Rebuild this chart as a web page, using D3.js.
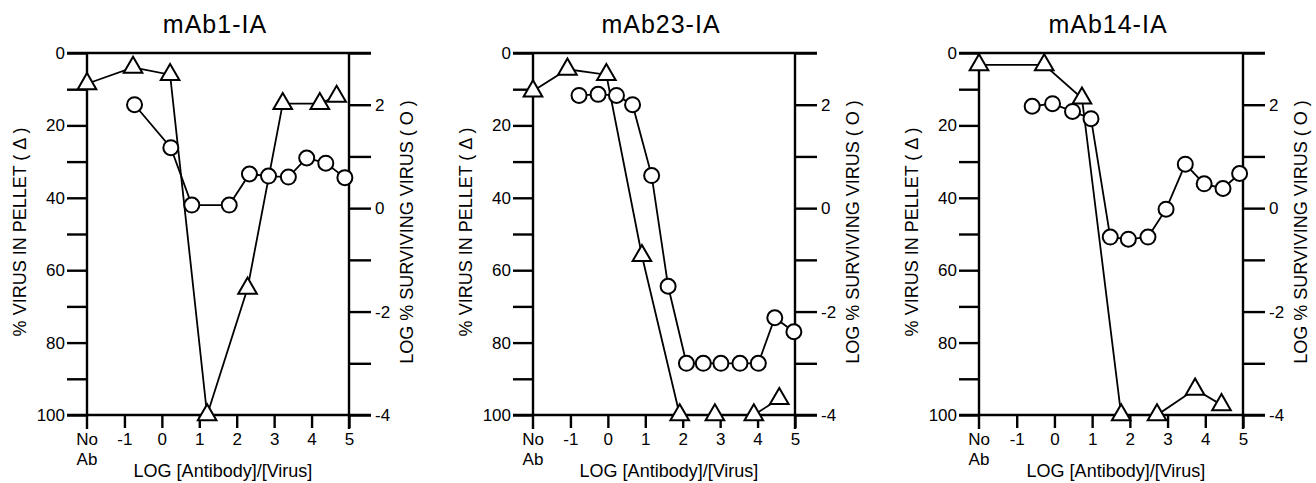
<!DOCTYPE html>
<html>
<head>
<meta charset="utf-8">
<script src="https://cdn.jsdelivr.net/npm/d3@7"></script>
<style>
  body { margin: 0; background: #fff; }
  svg text { font-family: "Liberation Sans", Arial, Helvetica, sans-serif; fill: #000; }
</style>
</head>
<body>
<script>
// panel titles
var titles = ['mAb1-IA', 'mAb23-IA', 'mAb14-IA'];

// % virus in pellet (triangles), x = log [Ab]/[Virus], -2 stands for "No Ab"
var p1TriX   = [-2, -0.77, 0.22, 1.21, 2.29, 3.23, 4.22, 4.67];
var p1TriPct = [8.5, 4, 6, 100, 65, 14, 14, 12];
var p2TriX   = [-2, -1.08, -0.04, 0.91, 1.92, 2.86, 3.9, 4.58];
var p2TriPct = [10.5, 4.5, 6, 56, 100, 100, 100, 95.5];
var p3TriX   = [-2, -0.27, 0.73, 1.77, 2.72, 3.73, 4.43];
var p3TriPct = [3.3, 3.3, 12.5, 100, 100, 92.9, 97.2];

// log % surviving virus (circles)
var p1CircX   = [-0.73, 0.24, 0.80, 1.80, 2.34, 2.85, 3.38, 3.87, 4.38, 4.89];
var p1CircLog = [2.0, 1.17, 0.06, 0.06, 0.66, 0.62, 0.6, 0.97, 0.87, 0.59];
var p2CircX   = [-0.77, -0.26, 0.23, 0.66, 1.17, 1.61, 2.1, 2.55, 3.02, 3.53, 4.02, 4.46, 4.97];
var p2CircLog = [2.18, 2.2, 2.18, 2.0, 0.63, -1.51, -3.0, -3.0, -3.0, -3.0, -3.0, -2.12, -2.39];
var p3CircX   = [-0.59, -0.05, 0.48, 0.97, 1.48, 1.96, 2.48, 2.96, 3.47, 3.97, 4.47, 4.91];
var p3CircLog = [1.97, 2.02, 1.87, 1.73, -0.56, -0.6, -0.56, -0.02, 0.85, 0.47, 0.38, 0.67];

// axis ticks
var xTicks = [-1, 0, 1, 2, 3, 4, 5];
var pctTicks = d3.range(0, 101, 10);
var logTicks = [3, 2, 1, 0, -1, -2, -3, -4];

var w = 1316, h = 483;
var yTop = 53, yBot = 415;
var panelX = [[87, 349], [533, 795], [979, 1243]];

var svg = d3.select('body').append('svg')
  .attr('width', w)
  .attr('height', h);

var panels = [
  { tx: p1TriX, ty: p1TriPct, cx: p1CircX, cy: p1CircLog },
  { tx: p2TriX, ty: p2TriPct, cx: p2CircX, cy: p2CircLog },
  { tx: p3TriX, ty: p3TriPct, cx: p3CircX, cy: p3CircLog }
];

panels.forEach(function(p, i) {
  drawPanel(p, titles[i], panelX[i][0], panelX[i][1]);
});

function drawPanel(p, title, xL, xR) {
  var x = d3.scaleLinear().domain([-2, 5]).range([xL, xR]);
  var yL = d3.scaleLinear().domain([0, 100]).range([yTop, yBot]);
  var yR = d3.scaleLinear().domain([3, -4]).range([yTop, yBot]);
  var g = svg.append('g');
  var mid = (xL + xR) / 2;

  // left axis: % virus in pellet
  var left = g.append('g')
    .attr('transform', 'translate(' + xL + ',0)')
    .call(d3.axisLeft(yL).tickValues(pctTicks).tickSize(20).tickPadding(2)
      .tickFormat(function(d) { return d % 20 === 0 ? String(d) : ''; }));

  // right axis: log % surviving virus
  var right = g.append('g')
    .attr('transform', 'translate(' + xR + ',0)')
    .call(d3.axisRight(yR).tickValues(logTicks).tickSize(22).tickPadding(4)
      .tickFormat(function(d) { return d % 2 === 0 ? String(d) : ''; }));

  // bottom axis
  var bottom = g.append('g')
    .attr('transform', 'translate(0,' + yBot + ')')
    .call(d3.axisBottom(x).tickValues(xTicks).tickSize(13).tickPadding(5)
      .tickFormat(function(d) { return String(d); }));

  [left, right, bottom].forEach(function(a) {
    a.select('.domain').remove();
    a.selectAll('line').attr('stroke', '#000').attr('stroke-width', 2.4);
    a.selectAll('text').style('font-size', '17px');
  });

  // full-width lines at 0 % and 100 %
  [0, 100].forEach(function(v) {
    g.append('line')
      .attr('x1', xL - 20).attr('x2', xR + 22)
      .attr('y1', yL(v)).attr('y2', yL(v))
      .attr('stroke', '#000').attr('stroke-width', 2.4);
  });

  // vertical axis lines, running down past the bottom like ticks
  [-2, 5].forEach(function(v) {
    g.append('line')
      .attr('x1', x(v)).attr('x2', x(v))
      .attr('y1', yTop).attr('y2', yBot + 14)
      .attr('stroke', '#000').attr('stroke-width', 2.4);
  });

  // "No Ab" label at the left end
  var noAb = g.append('text')
    .attr('x', x(-2))
    .attr('y', yBot + 30)
    .attr('text-anchor', 'middle')
    .style('font-size', '17px');
  noAb.append('tspan').attr('x', x(-2)).text('No');
  noAb.append('tspan').attr('x', x(-2)).attr('dy', 20).text('Ab');

  // connecting lines
  var triPts = p.tx.map(function(d, k) { return [x(d), yL(p.ty[k])]; });
  var circPts = p.cx.map(function(d, k) { return [x(d), yR(p.cy[k])]; });
  var line = d3.line();

  g.append('path').attr('d', line(triPts))
    .attr('fill', 'none').attr('stroke', '#000').attr('stroke-width', 1.8);
  g.append('path').attr('d', line(circPts))
    .attr('fill', 'none').attr('stroke', '#000').attr('stroke-width', 1.8);

  // markers
  g.selectAll('.circ')
    .data(circPts)
    .enter()
    .append('circle')
      .attr('cx', function(d) { return d[0]; })
      .attr('cy', function(d) { return d[1]; })
      .attr('r', 7.5)
      .attr('fill', '#fff')
      .attr('stroke', '#000')
      .attr('stroke-width', 2);

  var tri = d3.symbol().type(d3.symbolTriangle).size(150);
  g.selectAll('.tri')
    .data(triPts)
    .enter()
    .append('path')
      .attr('d', tri)
      .attr('transform', function(d) { return 'translate(' + d[0] + ',' + d[1] + ')'; })
      .attr('fill', '#fff')
      .attr('stroke', '#000')
      .attr('stroke-width', 2);

  // titles and axis labels
  g.append('text')
    .attr('x', mid - 3)
    .attr('y', 33)
    .attr('text-anchor', 'middle')
    .style('font-size', '25px')
    .style('letter-spacing', '1px')
    .text(title);

  g.append('text')
    .attr('x', mid + 5)
    .attr('y', 477)
    .attr('text-anchor', 'middle')
    .style('font-size', '18px')
    .text('LOG [Antibody]/[Virus]');

  g.append('text')
    .attr('transform', 'translate(' + (xL - 61) + ',232) rotate(-90)')
    .attr('text-anchor', 'middle')
    .style('font-size', '18px')
    .text('% VIRUS IN PELLET ( \u0394 )');

  g.append('text')
    .attr('transform', 'translate(' + (xR + 64) + ',232) rotate(-90)')
    .attr('text-anchor', 'middle')
    .style('font-size', '18px')
    .text('LOG % SURVIVING VIRUS ( O )');
}
</script>
</body>
</html>
